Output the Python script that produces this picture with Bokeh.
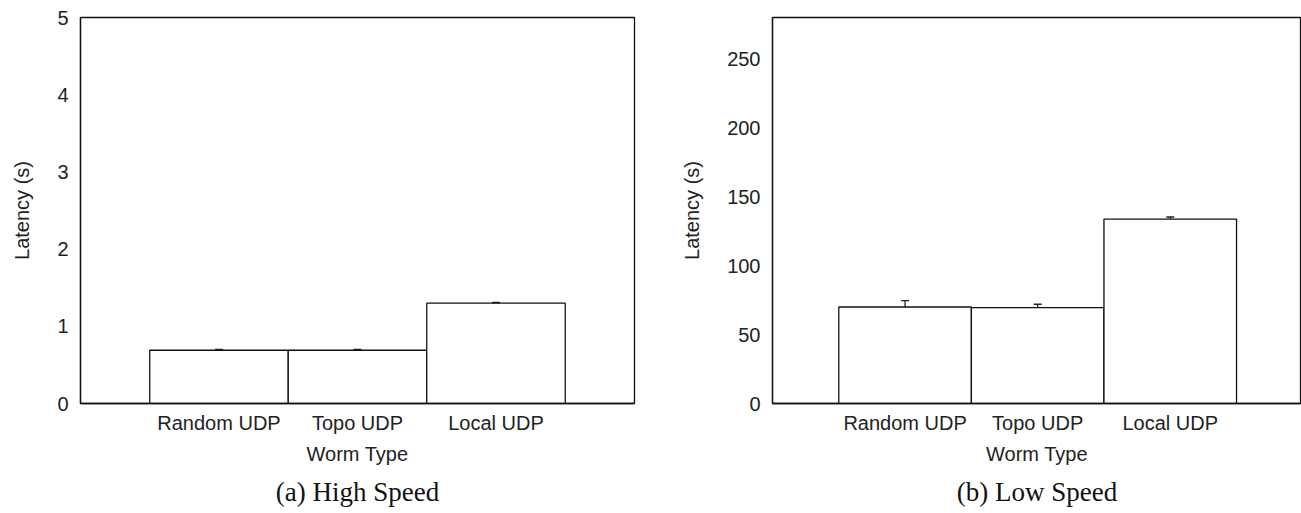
import numpy as np
from bokeh.plotting import figure
from bokeh.layouts import row
from bokeh.models import Range1d, FixedTicker, Whisker, TeeHead, ColumnDataSource, Title
from bokeh.embed import file_html
from bokeh.resources import INLINE

categories = ["Random UDP", "Topo UDP", "Local UDP"]

high_latency = [0.69, 0.69, 1.30]
high_err = [0.012, 0.012, 0.008]

low_latency = [70.0, 69.5, 133.8]
low_err = [4.6, 2.5, 1.5]

high_yticks = [0, 1, 2, 3, 4, 5]
low_yticks = [0, 50, 100, 150, 200, 250]

SANS = "Liberation Sans"
SERIF = "Liberation Serif"
TXT = "#222222"


def make(vals, errs, yticks, ymax, xmax, caption, width, height, left_border, right_border):
    x = np.arange(1, len(categories) + 1)
    src = ColumnDataSource(dict(x=x, top=vals,
                                upper=np.array(vals) + np.array(errs),
                                lower=np.array(vals) - np.array(errs)))
    p = figure(width=width, height=height, output_backend="svg", toolbar_location=None,
               x_range=Range1d(0, xmax), y_range=Range1d(0, ymax),
               min_border_left=left_border, min_border_top=17, min_border_right=right_border,
               min_border_bottom=110)
    p.vbar(x="x", top="top", width=1.0, bottom=0, source=src,
           fill_color="white", line_color="#111111", line_width=1.3)
    w = Whisker(base="x", upper="upper", lower="lower", source=src,
                line_color="#222222", line_width=1.3,
                upper_head=TeeHead(size=8, line_color="#222222", line_width=1.3),
                lower_head=TeeHead(size=8, line_color="#222222", line_width=1.3))
    p.add_layout(w)
    p.grid.visible = False
    p.outline_line_color = "#111111"
    p.outline_line_width = 1.3
    p.background_fill_color = "white"
    p.border_fill_color = "white"

    p.xaxis.ticker = FixedTicker(ticks=list(x))
    p.xaxis.major_label_overrides = {int(i): c for i, c in zip(x, categories)}
    p.yaxis.ticker = FixedTicker(ticks=yticks)
    for ax in (p.xaxis[0], p.yaxis[0]):
        ax.major_tick_line_color = None
        ax.minor_tick_line_color = None
        ax.major_tick_out = 0
        ax.major_tick_in = 0
        ax.axis_line_color = "#111111"
        ax.axis_line_width = 1.3
        ax.major_label_text_font = SANS
        ax.major_label_text_font_size = "20px"
        ax.major_label_text_color = TXT
        ax.axis_label_text_font = SANS
        ax.axis_label_text_font_size = "20px"
        ax.axis_label_text_font_style = "normal"
        ax.axis_label_text_color = TXT
    p.xaxis.axis_label = "Worm Type"
    p.yaxis.axis_label = "Latency (s)"
    p.xaxis.major_label_standoff = 8
    p.xaxis.axis_label_standoff = 6
    p.yaxis.major_label_standoff = 12
    p.yaxis.axis_label_standoff = 21

    t = Title(text=caption, align="center", text_font=SERIF, text_font_size="27px",
              text_font_style="normal", text_color="#111111", standoff=14)
    p.add_layout(t, "below")
    return p


p1 = make(high_latency, high_err, high_yticks, 5, 4, "(a) High Speed", 650, 513, 80, 16)
p2 = make(low_latency, low_err, low_yticks, 280, 3.99, "(b) Low Speed", 651, 513, 122, 0)

layout = row(p1, p2)
open("out.html", "w").write(file_html(layout, INLINE))
